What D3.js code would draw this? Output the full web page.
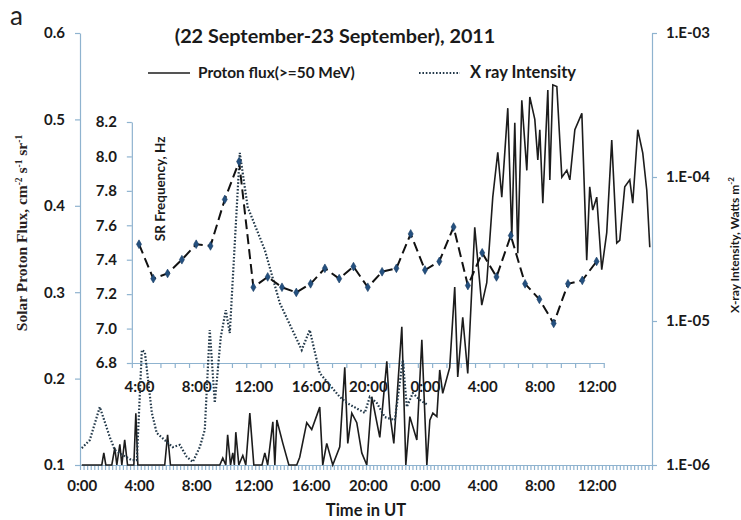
<!DOCTYPE html>
<html>
<head>
<meta charset="utf-8">
<script src="https://cdn.jsdelivr.net/npm/d3@7"></script>
<style>
  html, body { margin: 0; padding: 0; background: #fff; }
  svg { display: block; }
  .lbl { font-family: Lato, "Open Sans", sans-serif; font-weight: bold; fill: #1a1a1a; }
  .axis path, .axis line { stroke: #8fb3cf; stroke-width: 1.2; }
  .axis text { font-family: Lato, "Open Sans", sans-serif; font-weight: bold; font-size: 15px; fill: #1a1a1a; }
</style>
</head>
<body>
<svg id="chart" width="741" height="520"></svg>
<script>
// Solar proton flux (>=50 MeV), hours from 0:00 UT on 22 Sep 2011
const protonHours = [0, 1.4, 1.54, 1.68, 2.1, 2.31, 2.45, 2.66, 2.8, 3.0, 3.2, 3.64, 3.78, 3.92,
  5.8, 6.0, 6.2, 9.65, 9.86, 10.07, 10.2, 10.4, 10.56, 10.67, 10.77, 10.98, 11.26, 11.47, 11.75,
  12.03, 12.6, 12.8, 13.0, 13.36, 13.5, 13.64, 14.06, 14.48, 15.03, 15.24, 15.73, 16.08, 16.64,
  16.85, 17.13, 17.55, 18.04, 18.39, 18.6, 18.88, 19.23, 19.58, 19.93, 20.28, 20.84, 21.33, 21.54,
  21.82, 22.38, 22.66, 22.94, 23.43, 23.78, 24.13, 24.34, 24.55, 24.83, 25.03, 25.24, 25.73, 26.08,
  26.29, 26.64, 26.99, 27.48, 27.97, 28.32, 28.74, 29.09, 29.37, 29.79, 30.07, 30.28, 30.49, 30.77,
  31.12, 31.33, 31.68, 31.89, 32.03, 32.24, 32.59, 32.73, 32.94, 33.22, 33.57, 33.92, 34.13, 34.48,
  34.97, 35.31, 35.52, 35.73, 36.01, 36.36, 36.71, 37.06, 37.41, 37.62, 37.97, 38.32, 38.53, 38.88,
  39.23, 39.51, 39.72];
const protonFlux = [0.1, 0.1, 0.114, 0.1, 0.1, 0.12, 0.1, 0.124, 0.1, 0.129, 0.1, 0.1, 0.16, 0.1,
  0.1, 0.135, 0.1, 0.1, 0.108, 0.1, 0.135, 0.1, 0.114, 0.1, 0.138, 0.1, 0.111, 0.1, 0.16,
  0.1, 0.1, 0.114, 0.1, 0.15, 0.1, 0.152, 0.125, 0.1, 0.1, 0.109, 0.149, 0.141, 0.167,
  0.1, 0.125, 0.1, 0.121, 0.213, 0.125, 0.16, 0.149, 0.114, 0.1, 0.179, 0.132, 0.22, 0.16,
  0.125, 0.26, 0.1, 0.156, 0.129, 0.245, 0.1, 0.152, 0.16, 0.156, 0.21, 0.183, 0.213, 0.306,
  0.202, 0.271, 0.206, 0.375, 0.285, 0.311, 0.41, 0.462, 0.41, 0.513, 0.364, 0.496, 0.345, 0.522,
  0.441, 0.526, 0.5, 0.453, 0.488, 0.403, 0.534, 0.43, 0.54, 0.538, 0.433, 0.441, 0.43, 0.488,
  0.507, 0.337, 0.422, 0.395, 0.41, 0.326, 0.369, 0.476, 0.357, 0.36, 0.422, 0.43, 0.403, 0.488,
  0.461, 0.418, 0.352];

// X-ray intensity (W m^-2)
const xrayHours = [0, 0.56, 1.26, 1.96, 2.31, 2.87, 3.5, 3.85, 4.2, 4.41, 4.9, 5.24, 6.36, 6.85,
  7.34, 7.76, 8.25, 8.6, 8.95, 9.3, 9.72, 10.07, 10.35, 11.05, 11.6, 12.8, 13.85, 15.38, 15.94,
  16.64, 18.04, 18.53, 19.79, 20.14, 20.63, 21.19, 21.89, 22.45, 22.73, 23.15, 23.64, 24.2];
const xrayFlux = [1.31e-6, 1.49e-6, 2.53e-6, 1.56e-6, 1.27e-6, 1.17e-6, 1.08e-6, 1.08e-6, 6.29e-6,
  6.09e-6, 2.30e-6, 1.67e-6, 1.33e-6, 1.38e-6, 1.14e-6, 1.05e-6, 1.33e-6, 1.75e-6, 8.66e-6,
  2.70e-6, 7.74e-6, 1.19e-5, 8.25e-6, 1.47e-4, 6.19e-5, 3.11e-5, 1.33e-5, 6.29e-6, 8.66e-6,
  4.35e-6, 2.97e-6, 2.70e-6, 2.30e-6, 2.97e-6, 2.70e-6, 2.15e-6, 2.05e-6, 5.36e-6, 2.53e-6,
  3.16e-6, 2.83e-6, 2.61e-6];

// Hourly Schumann resonance frequency, 4:00 on 22 Sep to 12:00 on 23 Sep
const srHours = d3.range(4, 37);
const srFreq = [7.49, 7.29, 7.32, 7.40, 7.49, 7.48, 7.75, 7.97, 7.24, 7.30, 7.24, 7.21, 7.26,
  7.35, 7.29, 7.36, 7.24, 7.33, 7.35, 7.55, 7.34, 7.39, 7.59, 7.25, 7.44, 7.30, 7.54, 7.26,
  7.17, 7.03, 7.26, 7.28, 7.39];

// Axis ticks
const protonTicks = [0.1, 0.2, 0.3, 0.4, 0.5, 0.6];
const xrayTicks = [1e-6, 1e-5, 1e-4, 1e-3];
const srTicks = [6.8, 7.0, 7.2, 7.4, 7.6, 7.8, 8.0, 8.2];
const timeLabelHours = [0, 4, 8, 12, 16, 20, 24, 28, 32, 36];
const insetLabelHours = [4, 8, 12, 16, 20, 24, 28, 32, 36];

const svg = d3.select("#chart");
const plot = { left: 80, right: 652, top: 33, bottom: 465 };

const x = d3.scaleLinear().domain([-0.125, 39.875]).range([plot.left, plot.right]);
const yP = d3.scaleLinear().domain([0.1, 0.6]).range([plot.bottom, plot.top]);
const yX = d3.scaleLog().domain([1e-6, 1e-3]).range([plot.bottom, plot.top]);
const yS = d3.scaleLinear().domain([6.8, 8.2]).range([363, 122]);
const hourFmt = h => (h % 24) + ":00";

// Main bottom axis: 15-minute ticks, labels every 4 hours
const minorTicks = d3.range(0, 161).map(i => -0.125 + i * 0.25);
svg.append("g").attr("class", "axis").attr("transform", `translate(0,${plot.bottom})`)
  .call(d3.axisBottom(x).tickValues(minorTicks).tickFormat("").tickSize(5).tickSizeOuter(0));
svg.append("g").attr("class", "axis").attr("transform", `translate(0,${plot.bottom})`)
  .call(d3.axisBottom(x).tickValues(timeLabelHours).tickFormat(hourFmt).tickSize(0).tickPadding(15))
  .call(g => g.select(".domain").remove());

// Left axis (proton flux)
svg.append("g").attr("class", "axis").attr("transform", `translate(${plot.left},0)`)
  .call(d3.axisLeft(yP).tickValues(protonTicks).tickFormat(d3.format(".1f")).tickSize(5).tickSizeOuter(0).tickPadding(10));

// Right axis (X-ray, log)
svg.append("g").attr("class", "axis").attr("transform", `translate(${plot.right},0)`)
  .call(d3.axisRight(yX).tickValues(xrayTicks)
    .tickFormat(d => "1.E-" + String(Math.round(-Math.log10(d))).padStart(2, "0"))
    .tickSize(5).tickSizeOuter(0).tickPadding(9));

// Inset axes (SR frequency)
const insetX0 = x(3.5), insetX1 = x(36.5);
const xIn = d3.scaleLinear().domain([3.5, 36.5]).range([insetX0, insetX1]);
svg.append("g").attr("class", "axis").attr("transform", `translate(${insetX0},0)`)
  .call(d3.axisLeft(yS).tickValues(srTicks).tickFormat(d3.format(".1f")).tickSize(5).tickSizeOuter(0).tickPadding(10));
svg.append("g").attr("class", "axis").attr("transform", `translate(0,${yS(6.8)})`)
  .call(d3.axisBottom(xIn).tickValues(d3.range(3.5, 37, 1)).tickFormat("").tickSize(5).tickSizeOuter(0));
svg.append("g").attr("class", "axis").attr("transform", `translate(0,${yS(6.8)})`)
  .call(d3.axisBottom(xIn).tickValues(insetLabelHours).tickFormat(hourFmt).tickSize(0).tickPadding(18))
  .call(g => g.select(".domain").remove());

// Proton flux line (values below 0.1 sit on the axis)
const protonLine = d3.line()
  .x((d, i) => x(protonHours[i]))
  .y(d => yP(Math.max(0.1, d)));
svg.append("path").datum(protonFlux)
  .attr("d", protonLine)
  .attr("fill", "none").attr("stroke", "#1c1c1c").attr("stroke-width", 1.6)
  .attr("stroke-linejoin", "miter");

// X-ray dotted line
const xrayLine = d3.line()
  .x((d, i) => x(xrayHours[i]))
  .y(d => yX(d));
svg.append("path").datum(xrayFlux)
  .attr("d", xrayLine)
  .attr("fill", "none").attr("stroke", "#23394a").attr("stroke-width", 2.2)
  .attr("stroke-dasharray", "1.6,1.8");

// SR frequency dashed line with diamond markers
const srLine = d3.line()
  .x((d, i) => xIn(srHours[i]))
  .y(d => yS(d));
svg.append("path").datum(srFreq)
  .attr("d", srLine)
  .attr("fill", "none").attr("stroke", "#111").attr("stroke-width", 2)
  .attr("stroke-dasharray", "10,5");
svg.append("g").selectAll("path").data(srFreq).join("path")
  .attr("transform", (d, i) => `translate(${xIn(srHours[i])},${yS(d)})`)
  .attr("d", d3.symbol(d3.symbolDiamond, 22))
  .attr("fill", "#24507f").attr("stroke", "#163a63").attr("stroke-width", 0.6);

// Titles
svg.append("text").attr("x", 10).attr("y", 25)
  .style("font-family", "Lato, sans-serif").style("font-size", "26px").style("fill", "#222")
  .text("a");
svg.append("text").attr("class", "lbl").attr("x", 335).attr("y", 43)
  .attr("text-anchor", "middle").style("font-size", "19.8px")
  .text("(22 September-23 September), 2011");

// Legend
const legendY = 73;
svg.append("line").attr("x1", 148).attr("x2", 190).attr("y1", legendY).attr("y2", legendY)
  .attr("stroke", "#1c1c1c").attr("stroke-width", 1.6);
svg.append("text").attr("class", "lbl").attr("x", 198).attr("y", legendY + 5)
  .style("font-size", "15.4px").text("Proton flux(>=50 MeV)");
svg.append("line").attr("x1", 419).attr("x2", 460).attr("y1", legendY).attr("y2", legendY)
  .attr("stroke", "#23394a").attr("stroke-width", 2.2).attr("stroke-dasharray", "1.6,1.8");
svg.append("text").attr("class", "lbl").attr("x", 470).attr("y", legendY + 5)
  .style("font-size", "16.5px").text("X ray Intensity");

// Axis titles
svg.append("text").attr("class", "lbl").attr("x", (plot.left + plot.right) / 2).attr("y", 516)
  .attr("text-anchor", "middle").style("font-size", "16.5px").text("Time in UT");

const leftTitle = svg.append("text")
  .attr("transform", `translate(27,233) rotate(-90)`)
  .attr("text-anchor", "middle")
  .style("font-family", "'Liberation Serif', 'DejaVu Serif', serif").style("font-size", "15.5px")
  .style("font-weight", "bold").style("fill", "#2a1f1f");
leftTitle.append("tspan").text("Solar Proton Flux, cm");
leftTitle.append("tspan").attr("dy", -5).style("font-size", "9.5px").text("-2");
leftTitle.append("tspan").attr("dy", 5).text(" s");
leftTitle.append("tspan").attr("dy", -5).style("font-size", "9.5px").text("-1");
leftTitle.append("tspan").attr("dy", 5).text(" sr");
leftTitle.append("tspan").attr("dy", -5).style("font-size", "9.5px").text("-1");

const rightTitle = svg.append("text").attr("class", "lbl")
  .attr("transform", `translate(739,245) rotate(-90)`)
  .attr("text-anchor", "middle").style("font-size", "12px");
rightTitle.append("tspan").text("X-ray Intensity, Watts m");
rightTitle.append("tspan").attr("dy", -5).style("font-size", "8px").text("-2");

svg.append("text").attr("class", "lbl")
  .attr("transform", `translate(165,${yS(7.8) - 2}) rotate(-90)`)
  .attr("text-anchor", "middle").style("font-size", "13.5px")
  .text("SR Frequency, Hz");
</script>
</body>
</html>
